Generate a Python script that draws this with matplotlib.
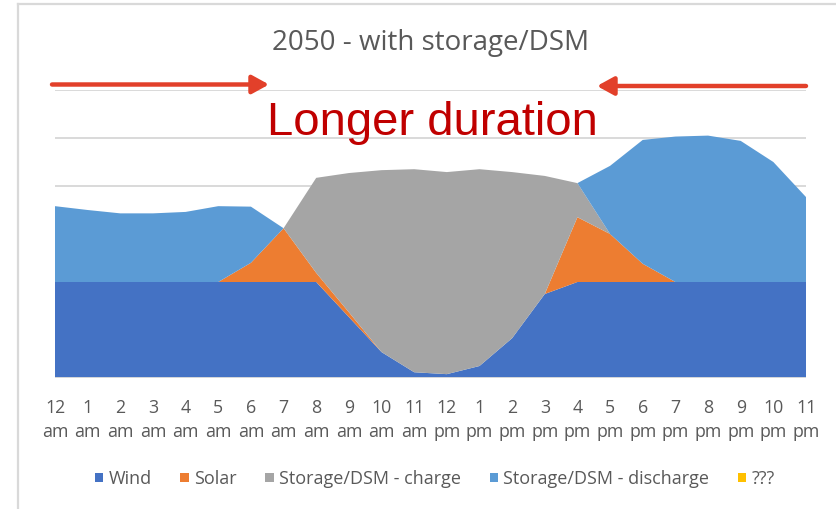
import matplotlib
matplotlib.use("Agg")
import matplotlib.pyplot as plt
from matplotlib.patches import Patch, FancyArrowPatch
from matplotlib.lines import Line2D

# ==============================
# DATA (stacked areas)
# ==============================
hours = ["12\nam", "1\nam", "2\nam", "3\nam", "4\nam", "5\nam", "6\nam", "7\nam",
         "8\nam", "9\nam", "10\nam", "11\nam", "12\npm", "1\npm", "2\npm", "3\npm",
         "4\npm", "5\npm", "6\npm", "7\npm", "8\npm", "9\npm", "10\npm", "11\npm"]

wind = [2, 2, 2, 2, 2, 2, 2, 2, 2, 1.27, 0.54, 0.12,
        0.08, 0.25, 0.83, 1.75, 2, 2, 2, 2, 2, 2, 2, 2]
solar = [0, 0, 0, 0, 0, 0, 0.4, 1.12, 0.19, 0.1, 0, 0,
         0, 0, 0, 0, 1.35, 1.0, 0.38, 0, 0, 0, 0, 0]
charge = [0, 0, 0, 0, 0, 0, 0, 0, 1.98, 2.90, 3.79, 4.23,
          4.21, 4.10, 3.46, 2.46, 0.71, 0, 0, 0, 0, 0, 0, 0]
discharge = [1.58, 1.5, 1.43, 1.43, 1.46, 1.58, 1.17, 0, 0, 0, 0, 0,
             0, 0, 0, 0, 0, 1.42, 2.58, 3.03, 3.05, 2.94, 2.5, 1.77]
unknown = [0] * 24

labels = ["Wind", "Solar", "Storage/DSM - charge", "Storage/DSM - discharge", "???"]
colors = ["#4472C4", "#ED7D31", "#A5A5A5", "#5B9BD5", "#FFC000"]

# ==============================
# FIGURE
# ==============================
W, H = 836, 509
fig = plt.figure(figsize=(W / 100, H / 100), dpi=100)
ax = fig.add_axes([55 / W, 1 - 378 / H, 751 / W, 288 / H])

x = list(range(len(hours)))
ax.stackplot(x, wind, solar, charge, discharge, unknown,
             colors=colors, linewidth=0, zorder=2)

ax.set_xlim(0, 23)
ax.set_ylim(0, 6)
ax.set_yticks(range(7))
ax.set_yticklabels([])
ax.grid(axis="y", color="#D9D9D9", linewidth=1.4, zorder=0)
ax.tick_params(axis="y", length=0)
ax.set_xticks(x)
ax.set_xticklabels(hours, fontsize=12.8, color="#595959", family="Open Sans",
                   linespacing=1.45)
ax.tick_params(axis="x", length=0, pad=15)
for s in ax.spines.values():
    s.set_visible(False)
ax.set_axisbelow(True)

# baseline gridline on top
ax.axhline(0, color="#D9D9D9", linewidth=1.4, zorder=3)

# title and annotation
fig.text(431 / W, 1 - 43 / H, "2050 - with storage/DSM", ha="center", va="center",
         fontsize=20, color="#595959", family="Open Sans")
fig.text(432 / W, 1 - 135 / H, "Longer duration", ha="center", va="baseline",
         fontsize=34, color="#C00000", family="Liberation Sans")

arrow_kw = dict(arrowstyle="-|>,head_length=1.0,head_width=0.55",
                color="#E2402A", lw=3.2, shrinkA=0, shrinkB=0)
fig.add_artist(FancyArrowPatch((52 / W, 1 - 84.5 / H), (269 / W, 1 - 84.5 / H),
                               transform=fig.transFigure, mutation_scale=10, **arrow_kw))
fig.add_artist(FancyArrowPatch((806 / W, 1 - 86 / H), (597 / W, 1 - 86 / H),
                               transform=fig.transFigure, mutation_scale=10, **arrow_kw))

# chart border
fig.add_artist(Line2D([18 / W, 18 / W], [0, 1 - 4 / H], transform=fig.transFigure,
                      color="#D9D9D9", lw=1.6))
fig.add_artist(Line2D([18 / W, 1], [1 - 4 / H, 1 - 4 / H], transform=fig.transFigure,
                      color="#D9D9D9", lw=1.6))

# legend
handles = [Patch(facecolor=c, edgecolor="none") for c in colors]
leg = fig.legend(handles, labels, loc="center", bbox_to_anchor=(435 / W, 1 - 479 / H),
                 ncol=5, frameon=False, handlelength=0.45, handleheight=0.45,
                 handletextpad=0.3, columnspacing=1.6,
                 prop={"family": "Open Sans", "size": 13})
for t in leg.get_texts():
    t.set_color("#595959")

fig.savefig("out.png", dpi=100)
